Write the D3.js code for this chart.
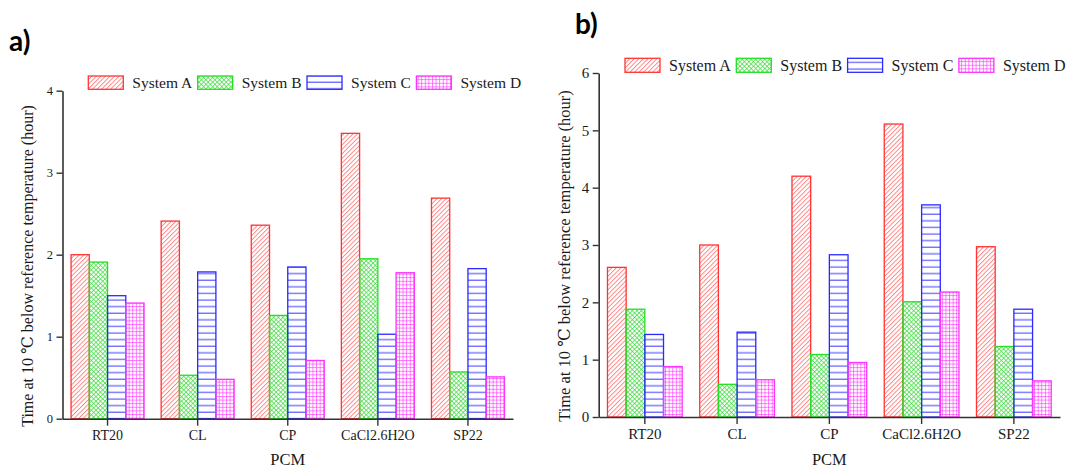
<!DOCTYPE html>
<html>
<head>
<meta charset="utf-8">
<script src="https://cdn.jsdelivr.net/npm/d3@7"></script>
<style>
  body { margin: 0; background: #fff; }
</style>
</head>
<body>
<div id="chart"></div>
<script>
// categories and series
const categories = ["RT20", "CL", "CP", "CaCl2.6H2O", "SP22"];
const systems = ["System A", "System B", "System C", "System D"];

// panel a) values (hour)
const panelA_SystemA = [2.00, 2.41, 2.36, 3.48, 2.69];
const panelA_SystemB = [1.91, 0.53, 1.26, 1.95, 0.57];
const panelA_SystemC = [1.50, 1.79, 1.85, 1.03, 1.83];
const panelA_SystemD = [1.41, 0.48, 0.71, 1.78, 0.51];
const panelA_ticks = [0, 1, 2, 3, 4];

// panel b) values (hour)
const panelB_SystemA = [2.61, 3.00, 4.20, 5.11, 2.97];
const panelB_SystemB = [1.88, 0.57, 1.09, 2.01, 1.23];
const panelB_SystemC = [1.44, 1.48, 2.83, 3.70, 1.88];
const panelB_SystemD = [0.88, 0.65, 0.95, 2.18, 0.63];
const panelB_ticks = [0, 1, 2, 3, 4, 5, 6];

const yLabel = "Time at 10 \u2103 below reference temperature (hour)";

const serif = "'Liberation Serif', 'Times New Roman', 'DejaVu Serif', serif";
const width = 1075, height = 468;

const svg = d3.select("#chart").append("svg")
    .attr("width", width)
    .attr("height", height);

svg.append("rect").attr("width", width).attr("height", height).attr("fill", "#fff");

// hatch patterns, one per system
const styles = [
    { id: "patA", stroke: "#ff3333", line: "#ff5a5a" },
    { id: "patB", stroke: "#22e022", line: "#3ad83a" },
    { id: "patC", stroke: "#2a2aff", line: "#3a3aff" },
    { id: "patD", stroke: "#ff33ff", line: "#ff44ff" }
];

const defs = svg.append("defs");

// A: single diagonal "/"
let p = defs.append("pattern").attr("id", "patA")
    .attr("patternUnits", "userSpaceOnUse")
    .attr("width", 3.2).attr("height", 3.2)
    .attr("patternTransform", "rotate(45)");
p.append("line").attr("x1", 0.5).attr("y1", 0).attr("x2", 0.5).attr("y2", 3.2)
    .attr("stroke", styles[0].line).attr("stroke-width", 0.7);

// B: diagonal cross hatch
p = defs.append("pattern").attr("id", "patB")
    .attr("patternUnits", "userSpaceOnUse")
    .attr("width", 3.2).attr("height", 3.2)
    .attr("patternTransform", "rotate(45)");
p.append("line").attr("x1", 0.5).attr("y1", 0).attr("x2", 0.5).attr("y2", 3.2)
    .attr("stroke", styles[1].line).attr("stroke-width", 0.7);
p.append("line").attr("x1", 0).attr("y1", 0.5).attr("x2", 3.2).attr("y2", 0.5)
    .attr("stroke", styles[1].line).attr("stroke-width", 0.7);

// C: horizontal lines
p = defs.append("pattern").attr("id", "patC")
    .attr("patternUnits", "userSpaceOnUse")
    .attr("width", 10).attr("height", 6.6);
p.append("line").attr("x1", 0).attr("y1", 3).attr("x2", 10).attr("y2", 3)
    .attr("stroke", styles[2].line).attr("stroke-width", 1);

// D: fine square grid
p = defs.append("pattern").attr("id", "patD")
    .attr("patternUnits", "userSpaceOnUse")
    .attr("width", 3.6).attr("height", 3.6);
p.append("line").attr("x1", 0.5).attr("y1", 0).attr("x2", 0.5).attr("y2", 3.6)
    .attr("stroke", styles[3].line).attr("stroke-width", 0.7);
p.append("line").attr("x1", 0).attr("y1", 0.5).attr("x2", 3.6).attr("y2", 0.5)
    .attr("stroke", styles[3].line).attr("stroke-width", 0.7);

const drawPanel = (cfg) => {
    const g = svg.append("g");

    const x0 = d3.scaleBand()
        .domain(categories)
        .range([cfg.left, cfg.right])
        .paddingInner(0.19)
        .paddingOuter(0.095);

    const x1 = d3.scaleBand()
        .domain(systems)
        .range([0, x0.bandwidth()]);

    const y = d3.scaleLinear()
        .domain([0, d3.max(cfg.ticks)])
        .range([cfg.bottom, cfg.top]);

    const rows = categories.map((c, i) => ({
        cat: c,
        vals: systems.map((s, j) => ({ sys: s, j: j, v: cfg.series[j][i] }))
    }));

    // bars
    g.append("g")
        .selectAll("g")
        .data(rows)
        .join("g")
        .attr("transform", d => "translate(" + x0(d.cat) + ",0)")
        .selectAll("rect")
        .data(d => d.vals)
        .join("rect")
        .attr("x", d => x1(d.sys))
        .attr("y", d => y(d.v))
        .attr("width", x1.bandwidth())
        .attr("height", d => y(0) - y(d.v))
        .attr("fill", d => "url(#" + styles[d.j].id + ")")
        .attr("stroke", d => styles[d.j].stroke)
        .attr("stroke-width", 1.3);

    // y axis
    const yAxis = g.append("g")
        .attr("transform", "translate(" + cfg.left + ",0)")
        .call(d3.axisLeft(y).tickValues(cfg.ticks).tickFormat(d3.format("d")).tickSize(6).tickPadding(3.5).tickSizeOuter(0));
    yAxis.attr("font-family", null).attr("font-size", null);
    yAxis.selectAll("text").style("font-size", cfg.yTickFont + "px");

    // x axis
    const xAxis = g.append("g")
        .attr("transform", "translate(0," + cfg.bottom + ")")
        .call(d3.axisBottom(x0).tickSize(7).tickPadding(4).tickSizeOuter(0));
    xAxis.attr("font-family", null).attr("font-size", null);
    xAxis.selectAll("text").style("font-size", cfg.xTickFont + "px");

    [yAxis, xAxis].forEach(a => {
        a.select(".domain").attr("stroke", "#333").attr("stroke-width", 1.6);
        a.selectAll(".tick line").attr("stroke", "#333").attr("stroke-width", 1.4);
    });

    // axis titles
    g.append("text")
        .attr("x", (cfg.left + cfg.right) / 2)
        .attr("y", 465)
        .attr("text-anchor", "middle")
        .style("font-size", "16.5px")
        .text("PCM");

    g.append("text")
        .attr("transform", "translate(" + cfg.yLabelX + "," + cfg.yLabelY + ") rotate(-90)")
        .attr("text-anchor", "middle")
        .style("font-size", cfg.yLabelFont + "px")
        .text(yLabel);

    // legend
    const leg = g.append("g");
    let lx = cfg.legendX;
    systems.forEach((s, j) => {
        leg.append("rect")
            .attr("x", lx)
            .attr("y", cfg.legendY)
            .attr("width", 35)
            .attr("height", cfg.legendH)
            .attr("fill", "url(#" + styles[j].id + ")")
            .attr("stroke", styles[j].stroke)
            .attr("stroke-width", 1.3);
        const t = leg.append("text")
            .attr("x", lx + 35 + 9)
            .attr("y", cfg.legendY + cfg.legendH / 2)
            .attr("dy", "0.35em")
            .style("font-family", serif)
            .style("font-size", cfg.legendFont + "px")
            .text(s);
        lx = lx + 35 + 9 + t.node().getComputedTextLength() + 5.5;
    });

    // all chart text in the serif face
    g.selectAll("text").style("font-family", serif).style("fill", "#1a1a1a");

    // panel letter
    g.append("text")
        .attr("x", cfg.letterX)
        .attr("y", cfg.letterY)
        .style("font-family", "Lato, 'Open Sans', sans-serif")
        .style("font-weight", "bold")
        .style("font-size", "28px")
        .style("fill", "#000")
        .text(cfg.letter);
};

drawPanel({
    letter: "a)", letterX: 9, letterY: 51,
    series: [panelA_SystemA, panelA_SystemB, panelA_SystemC, panelA_SystemD],
    ticks: panelA_ticks,
    left: 62.5, right: 513, top: 90.7, bottom: 418.7,
    yTickFont: 12.5, xTickFont: 14,
    yLabelX: 33, yLabelY: 266, yLabelFont: 16,
    legendX: 88.3, legendY: 76, legendH: 13.3, legendFont: 15.5
});

drawPanel({
    letter: "b)", letterX: 575, letterY: 34,
    series: [panelB_SystemA, panelB_SystemB, panelB_SystemC, panelB_SystemD],
    ticks: panelB_ticks,
    left: 598.7, right: 1060, top: 73, bottom: 417,
    yTickFont: 15, xTickFont: 15,
    yLabelX: 569.5, yLabelY: 256, yLabelFont: 16.5,
    legendX: 625, legendY: 58.3, legendH: 14, legendFont: 16
});
</script>
</body>
</html>
